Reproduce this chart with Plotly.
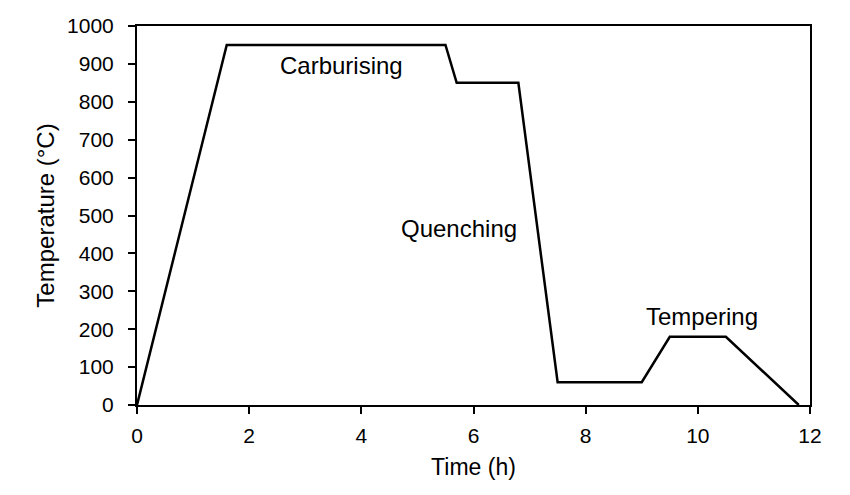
import plotly.graph_objects as go

time_h = [0, 1.6, 5.5, 5.7, 6.8, 7.5, 9.0, 9.5, 10.5, 11.8]
temp_c = [0, 950, 950, 850, 850, 60, 60, 180, 180, 0]

labels = ["Carburising", "Quenching", "Tempering"]
label_x = [3.65, 5.75, 10.08]
label_y = [897, 465, 234]

FONT = "Liberation Sans, Arial, sans-serif"

fig = go.Figure()
fig.add_trace(go.Scatter(x=time_h, y=temp_c, mode="lines",
                         line=dict(color="black", width=2.5), showlegend=False,
                         cliponaxis=False))

for t, x, y in zip(labels, label_x, label_y):
    fig.add_annotation(x=x, y=y, text=t, showarrow=False,
                       font=dict(family=FONT, size=24, color="black"))

axis_common = dict(showline=True, linecolor="black", linewidth=2, mirror=True,
                   ticks="outside", ticklen=7, tickwidth=2, tickcolor="black",
                   showgrid=False, zeroline=False,
                   tickfont=dict(family=FONT, size=21, color="black"))

fig.update_xaxes(range=[0, 12], tick0=0, dtick=2, ticklabelstandoff=4,
                 title=dict(text="Time (h)", font=dict(family=FONT, size=23, color="black"), standoff=13),
                 **axis_common)
fig.update_yaxes(range=[0, 1000], tick0=0, dtick=100, ticklabelstandoff=10,
                 title=dict(text="Temperature (°C)", font=dict(family=FONT, size=24, color="black"), standoff=6),
                 **axis_common)

fig.update_layout(width=850, height=495, margin=dict(l=137, r=40, t=26, b=90),
                  plot_bgcolor="white", paper_bgcolor="white")

fig.write_html("out.html")
